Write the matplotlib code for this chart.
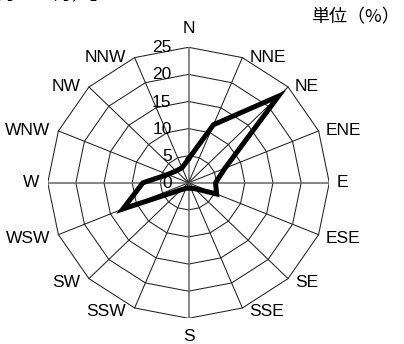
import numpy as np
import matplotlib
matplotlib.use("Agg")
import matplotlib.pyplot as plt

plt.rcParams['font.family'] = ['Liberation Sans', 'Noto Sans CJK JP', 'DejaVu Sans']

# ---- data ----
directions = ["N", "NNE", "NE", "ENE", "E", "ESE", "SE", "SSE",
              "S", "SSW", "SW", "WSW", "W", "WNW", "NW", "NNW"]
frequency = [4.4, 11.6, 22.6, 7.0, 4.8, 5.4, 1.5, 1.1,
             1.0, 1.1, 1.8, 12.6, 8.1, 4.0, 3.1, 3.0]
ring_levels = [5, 10, 15, 20, 25]
ring_labels = ["0", "5", "10", "15", "20", "25"]
unit_text = "単位（%）"
top_text = "（9月〜11月）」"

rmax = ring_levels[-1]
n = len(directions)
theta = np.deg2rad(np.arange(n) * 360.0 / n)
sx, cy = np.sin(theta), np.cos(theta)

W, H = 404, 344
fig = plt.figure(figsize=(W / 100, H / 100), dpi=100)
cx_px, cy_px = 188.5, 182.8
rx_px, ry_px = 140.8, 135.5
ax = fig.add_axes([(cx_px - rx_px) / W, (H - cy_px - ry_px) / H,
                   2 * rx_px / W, 2 * ry_px / H])
ax.set_xlim(-rmax, rmax)
ax.set_ylim(-rmax, rmax)
ax.axis('off')

# grid rings (polygons)
for lv in ring_levels:
    xs = np.append(lv * sx, lv * sx[0])
    ys = np.append(lv * cy, lv * cy[0])
    ax.plot(xs, ys, color='#222222', lw=0.75, zorder=1)
# radial lines
for i in range(n):
    main = (i % 4 == 0)
    ax.plot([0, rmax * sx[i]], [0, rmax * cy[i]],
            color='#666666' if main else '#222222',
            lw=1.1 if main else 0.75, zorder=1)

# radial value labels
for i, lab in enumerate(ring_labels):
    ax.text(-3.0, i * 5 - 0.1, lab, ha='right', va='center',
            fontsize=12.5, color='black', zorder=3)

# direction labels
for i, d in enumerate(directions):
    s, c = sx[i], cy[i]
    if abs(s) < 0.1:
        ha = 'center'
        dx, dy = 0, (8 if c > 0 else -8)
        va = 'bottom' if c > 0 else 'top'
    else:
        ha = 'left' if s > 0 else 'right'
        dx = 5 if s > 0 else -6
        dy = 0 if c > -0.3 else -2.5
        va = 'center'
    ax.annotate(d, (rmax * s, rmax * c), xytext=(dx, dy),
                textcoords='offset points', ha=ha, va=va,
                fontsize=12.5, color='black', annotation_clip=False)

# data polygon
vals = np.array(frequency)
xs = np.append(vals * sx, vals[0] * sx[0])
ys = np.append(vals * cy, vals[0] * cy[0])
ax.plot(xs, ys, color='black', lw=3.6, solid_joinstyle='miter', zorder=4)

fig.text(400 / W, 1 - 17.5 / H, unit_text, ha='right', va='center',
         fontsize=13, family=['Noto Sans CJK JP', 'DejaVu Sans'])
fig.text(108 / W, 0.989, top_text, ha='right', va='bottom',
         fontsize=13, family=['Noto Sans CJK JP', 'DejaVu Sans'])

fig.savefig("out.png", dpi=100)
